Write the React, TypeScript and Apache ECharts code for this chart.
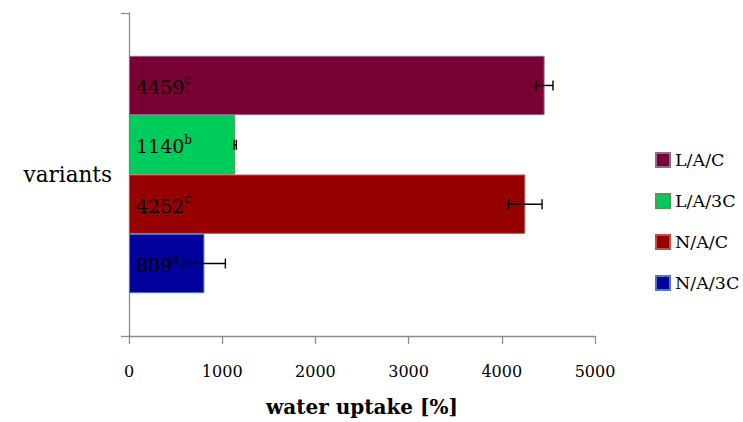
import React, { useEffect, useRef } from "react";
import * as echarts from "echarts";

const categories = ["variants"];
const seriesNames = ["L/A/C", "L/A/3C", "N/A/C", "N/A/3C"];
const values = [4459, 1140, 4252, 809];
const errors = [90, 12, 180, 225];
const letters = ["c", "b", "c", "a"];
const colors = ["#780032", "#00CC5C", "#970000", "#00009C"];
const borders = ["#8C6A9E", "#4E9A4E", "#C05050", "#4A7AC0"];
const xTicks = [0, 1000, 2000, 3000, 4000, 5000];

const FONT = "DejaVu Serif";
const CAT_GAP = 0.265;

export default function App() {
  const ref = useRef<HTMLDivElement>(null);
  useEffect(() => {
    const chart = echarts.init(ref.current!, undefined, { renderer: "svg" });
    const n = values.length;
    const barSeries = seriesNames.map((name, i) => ({
      name,
      type: "bar",
      data: [values[i]],
      barGap: "0%",
      barCategoryGap: CAT_GAP * 100 + "%",
      itemStyle: { color: colors[i], borderColor: borders[i], borderWidth: 1 },
      label: {
        show: true,
        position: "insideLeft",
        distance: 7,
        formatter: () => `{v|${values[i]}}{s|${letters[i]}}`,
        rich: {
          v: { fontFamily: FONT, fontSize: 19, color: "#000", lineHeight: 22, verticalAlign: "bottom" },
          s: { fontFamily: FONT, fontSize: 12, color: "#000", lineHeight: 22, verticalAlign: "top" },
        },
      },
    }));
    const errData = values.map((v, i) => [0, v, errors[i], i]);
    const errSeries = {
      type: "custom",
      name: "err",
      data: errData,
      encode: { y: 0, x: 1 },
      z: 10,
      renderItem: (params: any, api: any) => {
        const v = api.value(1);
        const e = api.value(2);
        const idx = api.value(3);
        const band = api.size([0, 1])[1];
        const group = band * (1 - CAT_GAP);
        const bw = group / n;
        const c = api.coord([v, 0]);
        const y = c[1] - group / 2 + bw * (idx + 0.5);
        const lo = api.coord([v - e, 0])[0];
        const hi = api.coord([v + e, 0])[0];
        const cap = 5;
        const st = { stroke: "#000", lineWidth: 1.4 };
        return {
          type: "group",
          children: [
            { type: "line", shape: { x1: lo, y1: y, x2: hi, y2: y }, style: st },
            { type: "line", shape: { x1: lo, y1: y - cap, x2: lo, y2: y + cap }, style: st },
            { type: "line", shape: { x1: hi, y1: y - cap, x2: hi, y2: y + cap }, style: st },
          ],
        };
      },
    };
    chart.setOption({
      animation: false,
      backgroundColor: "#fff",
      grid: { left: 129, right: 148, top: 13, bottom: 86, containLabel: false, outerBoundsMode: "none" },
      legend: {
        data: seriesNames,
        orient: "vertical",
        left: 650,
        top: 146,
        itemWidth: 14,
        itemHeight: 14,
        itemGap: 23,
        itemTextGap: 6,
        icon: "rect",
        textStyle: { fontFamily: FONT, fontSize: 17.5, color: "#000" },
      },
      xAxis: {
        type: "value",
        min: 0,
        max: 5000,
        interval: 1000,
        name: "water uptake [%]",
        nameLocation: "middle",
        nameGap: 61,
        nameTextStyle: { fontFamily: FONT, fontSize: 20, fontWeight: "bold", color: "#000" },
        axisLine: { show: true, lineStyle: { color: "#8C8C8C", width: 1.3 } },
        axisTick: { show: true, length: 8, inside: false, lineStyle: { color: "#8C8C8C", width: 1.3 } },
        axisLabel: {
          fontFamily: FONT,
          fontSize: 16,
          color: "#000",
          margin: 27,
          formatter: (v: number) => (xTicks.includes(v) ? String(v) : ""),
        },
        splitLine: { show: false },
      },
      yAxis: {
        type: "category",
        data: categories,
        axisLine: { show: true, onZero: false, lineStyle: { color: "#8C8C8C", width: 1.3 } },
        axisTick: { show: true, length: 8, lineStyle: { color: "#8C8C8C", width: 1.3 } },
        axisLabel: { fontFamily: FONT, fontSize: 21.5, color: "#000", margin: 17 },
      },
      series: [...barSeries, errSeries],
    });
    return () => chart.dispose();
  }, []);
  return <div ref={ref} style={{ width: 743, height: 422, position: "absolute", left: 0, top: 0 }} />;
}
